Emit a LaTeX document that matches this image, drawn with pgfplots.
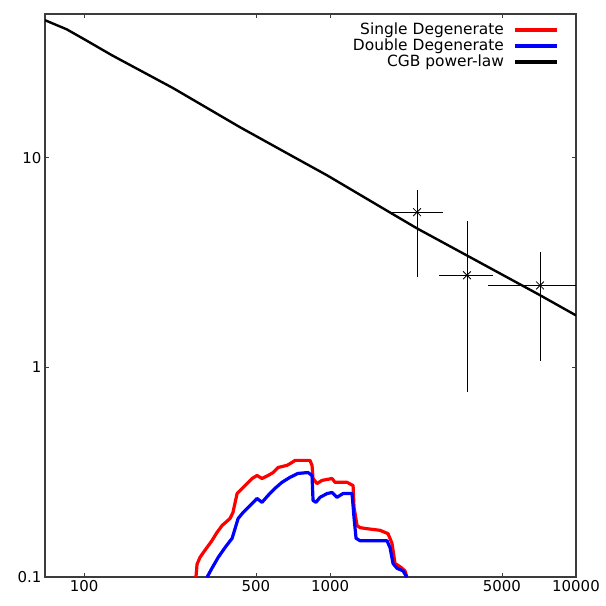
\documentclass[border=0pt]{standalone}
\usepackage{fontspec}
\setmainfont{DejaVu Sans}
\usepackage{pgfplots}
\pgfplotsset{compat=1.18}
\definecolor{axisgray}{RGB}{60,60,60}
\begin{document}
\begin{tikzpicture}
\begin{axis}[
  scale only axis,
  width=531bp, height=563bp,
  xmode=log, ymode=log,
  xmin=69.4, xmax=10000,
  ymin=0.1, ymax=48.5,
  xtick={100,500,1000,5000,10000},
  xticklabels={100,500,1000,5000,10000},
  ytick={0.1,1,10},
  yticklabels={0.1,1,10},
  xminorticks=false, yminorticks=false,
  tick align=inside,
  major tick length=4bp,
  tick style={axisgray, line width=0.8bp},
  axis line style={axisgray, line width=1.3bp},
  ticklabel style={font=\fontsize{15}{17}\selectfont},
  /pgf/number format/assume math mode=true,
  legend style={at={(1,1)}, anchor=north east, xshift=-14bp, yshift=-6bp,
    draw=none, fill=none, font=\fontsize{15.5}{16}\selectfont,
    nodes={inner sep=0.5bp, text height=11.5bp, text depth=3.5bp}, row sep=0pt},
  legend cell align=right,
  legend plot pos=right,
  legend image code/.code={\path (0bp,0bp) (51bp,0bp); \draw[#1, line width=3.5bp] (9bp,0bp) -- (51bp,0bp);},
]
% Single Degenerate
\addplot[red, line width=3.2bp, line join=round] coordinates {
(285,0.0995) (288,0.115) (296,0.124) (310,0.134) (331,0.149) (347,0.163)
(364,0.176) (392,0.190) (403,0.203) (419,0.250) (443,0.267) (482,0.295)
(505,0.305) (529,0.295) (560,0.305) (587,0.315) (615,0.333) (669,0.341)
(701,0.352) (721,0.360) (829,0.360) (845,0.341) (853,0.295) (885,0.279)
(928,0.289) (1019,0.295) (1048,0.283) (1173,0.283) (1241,0.273) (1252,0.215)
(1288,0.176) (1324,0.172) (1414,0.170) (1597,0.167) (1721,0.161) (1786,0.145)
(1838,0.116) (1926,0.112) (2018,0.107) (2056,0.0995)
};
\addlegendentry{Single Degenerate}
% Double Degenerate
\addplot[blue, line width=3.2bp, line join=round] coordinates {
(316,0.0995) (331,0.110) (351,0.124) (374,0.138) (400,0.153) (411,0.170)
(423,0.190) (443,0.203) (482,0.224) (505,0.237) (529,0.227) (560,0.245)
(598,0.265) (638,0.283) (688,0.299) (741,0.312) (814,0.315) (845,0.305)
(853,0.232) (877,0.227) (911,0.240) (972,0.250) (1019,0.253) (1068,0.240)
(1129,0.250) (1229,0.250) (1252,0.192) (1276,0.153) (1324,0.149) (1414,0.149)
(1705,0.149) (1754,0.138) (1804,0.116) (1873,0.110) (1981,0.107) (2056,0.0995)
};
\addlegendentry{Double Degenerate}
% CGB power-law
\addplot[black, line width=2.4bp, line join=round] coordinates {
(69.4,45.3) (85,41.0) (100,36.8) (130,30.8) (230,21.5) (430,14.0) (700,10.2)
(972,8.25) (1700,5.6) (2260,4.6) (3600,3.42) (7140,2.21) (10000,1.77)
};
\addlegendentry{CGB power-law}
% data points with error bars
\addplot[black, line width=0.8bp, only marks, mark=+, mark size=5.5bp,
  error bars/.cd, x dir=both, y dir=both, x explicit, y explicit,
  error bar style={line width=0.8bp},
  error mark options={mark size=2bp, line width=0.8bp}]
coordinates {
(2259,5.5) += (568,1.34) -= (505,2.75)
(3605,2.75) += (905,2.12) -= (778,1.97)
(7144,2.46) += (4000,1.0) -= (2664,1.36)
};
\addplot[black, line width=0.8bp, only marks, mark=x, mark size=5.5bp, forget plot]
coordinates {(2259,5.5) (3605,2.75) (7144,2.46)};
\end{axis}
\pgfresetboundingbox
\path ([shift={(-45bp,-29bp)}]current axis.south west) rectangle ([shift={(30bp,14bp)}]current axis.north east);
\end{tikzpicture}
\end{document}
